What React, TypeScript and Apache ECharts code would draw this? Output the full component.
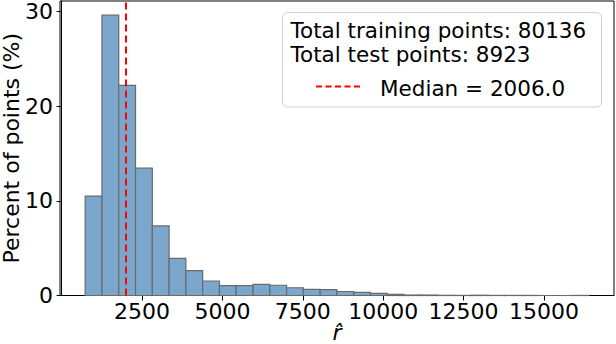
import React, { useEffect, useRef } from "react";
import * as echarts from "echarts";

// Histogram of r-hat (percent of points per bin)
const binStart = 732;
const binWidth = 522;
const percentValues = [
  10.5, 29.6, 22.2, 13.45, 7.35, 3.93, 2.63, 1.53, 1.04, 1.04,
  1.18, 1.08, 0.82, 0.65, 0.62, 0.42, 0.34, 0.22, 0.12, 0.05,
  0.05, 0.02, 0.01, 0.03, 0.01, 0.01, 0.01, 0.0, 0.0, 0.01,
];
const xTicks = [2500, 5000, 7500, 10000, 12500, 15000];
const yTicks = [0, 10, 20, 30];
const medianValue = 2006.0;
const legendLines = [
  "Total training points: 80136",
  "Total test points: 8923",
  "Median = 2006.0",
];

const FONT = "DejaVu Sans";
const FS = 22;
const LFS = 21.5;

export default function App() {
  const ref = useRef<HTMLDivElement>(null);
  useEffect(() => {
    if (!ref.current) return;
    const chart = echarts.init(ref.current, null, { renderer: "svg" });
    const histData = percentValues.map((v, i) => [
      binStart + i * binWidth,
      binStart + (i + 1) * binWidth,
      v,
    ]);
    chart.setOption({
      animation: false,
      grid: {
        left: 60,
        top: 1,
        width: 554,
        height: 294.5,
        outerBoundsMode: "none",
        containLabel: false,
        show: true,
        borderColor: "#000",
        borderWidth: 1,
        backgroundColor: "#fff",
      },
      xAxis: {
        type: "value",
        min: -51,
        max: 17179,
        name: "r\u0302",
        nameLocation: "middle",
        nameGap: 26,
        nameMoveOverlap: false,
        nameTextStyle: {
          fontFamily: FONT,
          fontSize: FS,
          fontStyle: "italic",
          color: "#000",
          verticalAlign: "top",
        },
        axisLine: { show: true, lineStyle: { color: "#000", width: 1 } },
        axisTick: {
          show: true,
          length: 5,
          customValues: xTicks,
          lineStyle: { color: "#000" },
        },
        axisLabel: {
          customValues: xTicks,
          margin: 5,
          fontFamily: FONT,
          fontSize: FS,
          color: "#000",
          formatter: (v: number) => String(v),
        },
        splitLine: { show: false },
      },
      yAxis: {
        type: "value",
        min: 0,
        max: 31.1,
        name: "Percent of points (%)",
        nameLocation: "middle",
        nameGap: 38,
        nameRotate: 90,
        nameMoveOverlap: false,
        nameTextStyle: { fontFamily: FONT, fontSize: FS, color: "#000" },
        axisLine: { show: true, lineStyle: { color: "#000", width: 1 } },
        axisTick: {
          show: true,
          length: 5,
          customValues: yTicks,
          lineStyle: { color: "#000" },
        },
        axisLabel: {
          customValues: yTicks,
          margin: 7,
          fontFamily: FONT,
          fontSize: FS,
          color: "#000",
          formatter: (v: number) => String(v),
        },
        splitLine: { show: false },
      },
      series: [
        {
          type: "custom",
          data: histData,
          encode: { x: [0, 1], y: 2 },
          renderItem: (params: any, api: any) => {
            const x0 = api.value(0);
            const x1 = api.value(1);
            const h = api.value(2);
            const pTop = api.coord([x0, h]);
            const pBot = api.coord([x1, 0]);
            return {
              type: "rect",
              shape: {
                x: pTop[0],
                y: pTop[1],
                width: pBot[0] - pTop[0],
                height: pBot[1] - pTop[1],
              },
              style: { fill: "#7ba7cc", stroke: "#6a6a6a", lineWidth: 1.2 },
            };
          },
        },
        {
          type: "line",
          data: [],
          symbol: "none",
          markLine: {
            silent: true,
            symbol: ["none", "none"],
            label: { show: false },
            lineStyle: { color: "#ff0000", type: [7, 4], width: 2 },
            data: [{ xAxis: medianValue }],
          },
        },
      ],
      graphic: [
        {
          type: "rect",
          shape: { x: 282.5, y: 12.5, width: 319, height: 94.5, r: 5 },
          style: { fill: "rgba(255,255,255,0.85)", stroke: "#d0d0d0", lineWidth: 1 },
          z: 100,
        },
        {
          type: "text",
          x: 290.5,
          y: 30,
          style: {
            text: legendLines[0],
            fontFamily: FONT,
            fontSize: LFS,
            fill: "#000",
            verticalAlign: "middle",
          },
          z: 101,
        },
        {
          type: "text",
          x: 290.5,
          y: 54,
          style: {
            text: legendLines[1],
            fontFamily: FONT,
            fontSize: LFS,
            fill: "#000",
            verticalAlign: "middle",
          },
          z: 101,
        },
        {
          type: "line",
          shape: { x1: 316, y1: 86.5, x2: 362, y2: 86.5 },
          style: { stroke: "#ff0000", lineWidth: 2, lineDash: [6, 3.5] },
          z: 101,
        },
        {
          type: "text",
          x: 380,
          y: 88,
          style: {
            text: legendLines[2],
            fontFamily: FONT,
            fontSize: LFS,
            fill: "#000",
            verticalAlign: "middle",
          },
          z: 101,
        },
      ],
    });
    return () => chart.dispose();
  }, []);
  return (
    <div
      ref={ref}
      style={{ position: "absolute", left: 0, top: 0, width: 616, height: 344 }}
    />
  );
}
